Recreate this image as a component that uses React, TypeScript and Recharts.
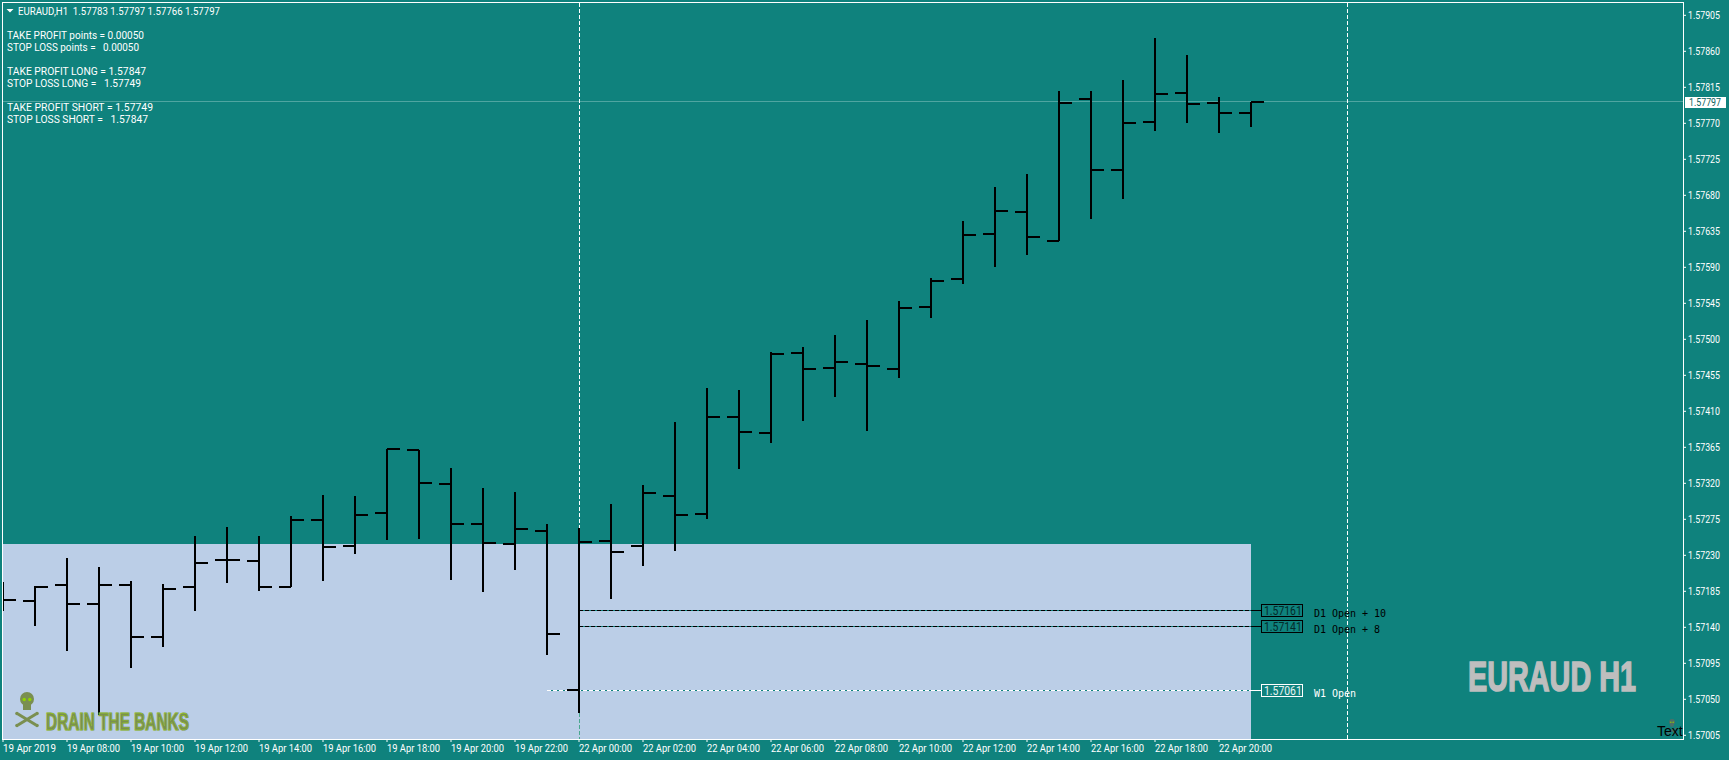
import { ComposedChart, Bar, XAxis, YAxis, ReferenceArea, ReferenceLine, ReferenceDot } from "recharts";

const highs = [
  1.57197, 1.57192, 1.57227, 1.57215, 1.57198, 1.57194, 1.57254, 1.57265, 1.57254, 1.57279,
  1.57305, 1.57304, 1.57363, 1.57362, 1.57339, 1.57314, 1.57309, 1.57269, 1.57264, 1.57294,
  1.57318, 1.57397, 1.57439, 1.57437, 1.57484, 1.5749, 1.57505, 1.57524, 1.57548, 1.57577,
  1.57648, 1.5769, 1.57707, 1.5781, 1.5781, 1.57824, 1.57877, 1.57855, 1.57803, 1.57797,
];
const lows = [
  1.57161, 1.57142, 1.57111, 1.57031, 1.57089, 1.57115, 1.57161, 1.57196, 1.57185, 1.5719,
  1.57198, 1.57232, 1.57249, 1.5725, 1.57199, 1.57184, 1.57212, 1.57105, 1.57033, 1.57175,
  1.57217, 1.57235, 1.57275, 1.57338, 1.5737, 1.57398, 1.57428, 1.57385, 1.57452, 1.57527,
  1.57569, 1.5759, 1.57605, 1.57623, 1.57651, 1.57676, 1.5776, 1.5777, 1.57758, 1.57766,
];
const opens = [
  null, 1.57173, 1.57193, 1.57169, 1.57193, 1.57128, 1.5719, 1.57224, 1.57223, 1.5719,
  1.57274, 1.57242, 1.57283, 1.57362, 1.57319, 1.57269, 1.57244, 1.5726, 1.57062, 1.57248,
  1.57242, 1.57304, 1.57282, 1.57403, 1.57383, 1.57483, 1.57464, 1.57469, 1.57463, 1.5754,
  1.57575, 1.57632, 1.57659, 1.57623, 1.57801, 1.57712, 1.57772, 1.57808, 1.57796, 1.57783,
];
const closes = [
  1.57174, 1.5719, 1.57169, 1.57193, 1.57128, 1.57188, 1.5722, 1.57224, 1.5719, 1.57274,
  1.5724, 1.5728, 1.57363, 1.5732, 1.57269, 1.57245, 1.57263, 1.57132, 1.57247, 1.57234,
  1.57308, 1.5728, 1.57403, 1.57384, 1.57482, 1.57463, 1.57472, 1.57467, 1.57539, 1.57573,
  1.5763, 1.5766, 1.57628, 1.57795, 1.57712, 1.5777, 1.57807, 1.57794, 1.57783, 1.57797,
];

const timeTicks = [0, 2, 4, 6, 8, 10, 12, 14, 16, 18, 20, 22, 24, 26, 28, 30, 32, 34, 36, 38];
const timeLabels = [
  "19 Apr 2019", "19 Apr 08:00", "19 Apr 10:00", "19 Apr 12:00", "19 Apr 14:00", "19 Apr 16:00",
  "19 Apr 18:00", "19 Apr 20:00", "19 Apr 22:00", "22 Apr 00:00", "22 Apr 02:00", "22 Apr 04:00",
  "22 Apr 06:00", "22 Apr 08:00", "22 Apr 10:00", "22 Apr 12:00", "22 Apr 14:00", "22 Apr 16:00",
  "22 Apr 18:00", "22 Apr 20:00",
];
const priceTicks = [
  1.57005, 1.5705, 1.57095, 1.5714, 1.57185, 1.5723, 1.57275, 1.5732, 1.57365, 1.5741, 1.57455,
  1.575, 1.57545, 1.5759, 1.57635, 1.5768, 1.57725, 1.5777, 1.57815, 1.5786, 1.57905,
];
const headerLines = [
  { text: "TAKE PROFIT points = 0.00050", y: 39, w: 137 },
  { text: "STOP LOSS points =   0.00050", y: 51, w: 132 },
  { text: "TAKE PROFIT LONG = 1.57847", y: 75, w: 139 },
  { text: "STOP LOSS LONG =   1.57749", y: 87, w: 134 },
  { text: "TAKE PROFIT SHORT = 1.57749", y: 111, w: 146 },
  { text: "STOP LOSS SHORT =   1.57847", y: 123, w: 141 },
];

const data = highs.map((high, i) => ({
  i,
  high,
  low: lows[i],
  open: opens[i],
  close: closes[i],
}));

const TEAL = "#0f827d";
const PANEL = "#bbcee7";
const MIN_Y = 1.57000375;
const MAX_Y = 1.57920375;
const PANEL_TOP = 1.57244;
const LAST_PRICE = 1.57797;
const LINE_END = 39.34; // where the level boxes start
const FONT = "Roboto, sans-serif";
const NARROW = "'Liberation Sans Narrow', 'Liberation Sans', sans-serif";

function OhlcBar(props: any) {
  const { x, y, width, height, payload } = props;
  const cx = x + width / 2;
  const span = payload.high - payload.low;
  const at = (v: number) => y + ((payload.high - v) / span) * height;
  return (
    <g fill="#000" shapeRendering="crispEdges">
      <rect x={cx - 1} y={y} width={2} height={height} />
      {payload.open != null && <rect x={cx - 12} y={at(payload.open) - 1} width={12} height={2} />}
      <rect x={cx} y={at(payload.close) - 1} width={13} height={2} />
    </g>
  );
}

function TimeTick({ x, y, payload }: any) {
  const label = timeLabels[timeTicks.indexOf(payload.value)];
  return (
    <text x={x} y={y + 8} fill="#fff" fontFamily={FONT} fontSize={10.5} textLength={53} lengthAdjust="spacingAndGlyphs">
      {label}
    </text>
  );
}

function PriceTick({ x, y, payload }: any) {
  return (
    <text x={x} y={y + 4} fill="#fff" fontFamily={FONT} fontSize={10.5} textLength={32} lengthAdjust="spacingAndGlyphs">
      {payload.value.toFixed(5)}
    </text>
  );
}

function PriceTag({ viewBox }: any) {
  const right = viewBox.x + viewBox.width;
  return (
    <g>
      <rect x={right + 2} y={viewBox.y - 5} width={41} height={11} fill="#fff" shapeRendering="crispEdges" />
      <text x={right + 6} y={viewBox.y + 4} fill="#0b5f5c" fontFamily={FONT} fontSize={10.5} textLength={32} lengthAdjust="spacingAndGlyphs">
        {LAST_PRICE.toFixed(5)}
      </text>
    </g>
  );
}

function LevelBox({ cx, cy, value, name, color, textColor }: any) {
  return (
    <g>
      <rect x={cx} y={cy - 6} width={41} height={12} fill="none" stroke={color} shapeRendering="crispEdges" />
      <text x={cx + 2} y={cy + 4.5} fill={textColor} fontFamily={FONT} fontSize={12.5} textLength={38} lengthAdjust="spacingAndGlyphs">
        {value.toFixed(5)}
      </text>
      <text x={cx + 52} y={cy + 6} fill={color} fontFamily="'DejaVu Sans Mono', monospace" fontSize={10} style={{ whiteSpace: "pre" }}>
        {name}
      </text>
    </g>
  );
}

function Level({ value, color, from, name, textColor }: any) {
  return [
    <ReferenceLine key="b" segment={[{ x: from, y: value }, { x: 39, y: value }]} stroke={TEAL} shapeRendering="crispEdges" />,
    <ReferenceLine key="d" segment={[{ x: from, y: value }, { x: 39, y: value }]} stroke={color} strokeDasharray="4 2" shapeRendering="crispEdges" />,
    <ReferenceLine key="e" segment={[{ x: 39, y: value }, { x: LINE_END, y: value }]} stroke={color} shapeRendering="crispEdges" />,
    <ReferenceDot
      key="t"
      x={LINE_END}
      y={value}
      r={1}
      shape={(p: any) => <LevelBox {...p} value={value} name={name} color={color} textColor={textColor} />}
    />,
  ];
}

function Skull({ x, y, s, fill }: any) {
  return (
    <g transform={`translate(${x} ${y}) scale(${s})`}>
      <circle cx={0} cy={0} r={7} fill={fill} />
      <rect x={-4} y={4} width={8} height={7} fill={fill} />
      <circle cx={-2.8} cy={0.5} r={1.7} fill="#8fd400" />
      <circle cx={2.8} cy={0.5} r={1.7} fill="#8fd400" />
      <line x1={-9} y1={15} x2={9} y2={26} stroke={fill} strokeWidth={3} />
      <line x1={9} y1={15} x2={-9} y2={26} stroke={fill} strokeWidth={3} />
      <circle cx={-10} cy={14.5} r={1.8} fill={fill} />
      <circle cx={10} cy={14.5} r={1.8} fill={fill} />
      <circle cx={-10} cy={26.5} r={1.8} fill={fill} />
      <circle cx={10} cy={26.5} r={1.8} fill={fill} />
    </g>
  );
}

export default function App() {
  return (
    <div style={{ position: "absolute", left: 0, top: 0, width: 1729, height: 760, background: TEAL, overflow: "hidden" }}>
      <ComposedChart width={1729} height={760} data={data} margin={{ top: 3, right: 0, bottom: 0, left: 3 }}>
        <XAxis
          dataKey="i"
          type="number"
          domain={[0, 52.5]}
          ticks={timeTicks}
          interval={0}
          height={21}
          allowDataOverflow
          axisLine={false}
          tickLine={{ stroke: "#fff" }}
          tickSize={3}
          tick={<TimeTick />}
        />
        <YAxis
          orientation="right"
          type="number"
          domain={[MIN_Y, MAX_Y]}
          ticks={priceTicks}
          interval={0}
          width={46}
          allowDataOverflow
          axisLine={false}
          tickLine={{ stroke: "#fff" }}
          tickSize={3}
          tickMargin={2}
          tick={<PriceTick />}
        />
        <ReferenceArea x1={0} x2={39} y1={MIN_Y} y2={PANEL_TOP} fill={PANEL} fillOpacity={1} stroke="none" shapeRendering="crispEdges" />
        <ReferenceLine y={LAST_PRICE} stroke="#4fa5a1" shapeRendering="crispEdges" label={<PriceTag />} />
        <ReferenceLine x={42} stroke="#fff" strokeDasharray="4 2" shapeRendering="crispEdges" />
        <ReferenceLine segment={[{ x: 18, y: MAX_Y }, { x: 18, y: highs[18] }]} stroke="#fff" strokeDasharray="4 2" shapeRendering="crispEdges" />
        <ReferenceLine segment={[{ x: 18, y: lows[18] }, { x: 18, y: MIN_Y }]} stroke="#4aa88e" strokeDasharray="4 2" shapeRendering="crispEdges" />
        {Level({ value: 1.57161, color: "#000", from: 18, name: "D1 Open + 10", textColor: "#032b2a" })}
        {Level({ value: 1.57141, color: "#000", from: 18, name: "D1 Open + 8", textColor: "#032b2a" })}
        {Level({ value: 1.57061, color: "#fff", from: 17, name: "W1 Open", textColor: "#e8f4f3" })}
        <Bar dataKey={(d: any) => [d.low, d.high]} barSize={2} shape={<OhlcBar />} isAnimationActive={false} zIndex={1000} />
      </ComposedChart>

      <div style={{ position: "absolute", left: 2, top: 2, width: 1682, height: 738, boxSizing: "border-box", border: "1px solid #fff", pointerEvents: "none" }} />

      <svg width={1729} height={760} style={{ position: "absolute", left: 0, top: 0, pointerEvents: "none" }}>
        <path d="M6.5 9 L13.5 9 L10 12.5 Z" fill="#fff" />
        <text x={18} y={14.5} fill="#fff" fontFamily={FONT} fontSize={10.5} textLength={202} lengthAdjust="spacingAndGlyphs" style={{ whiteSpace: "pre" }}>
          EURAUD,H1  1.57783 1.57797 1.57766 1.57797
        </text>
        {headerLines.map((l) => (
          <text key={l.y} x={7} y={l.y} fill="#fff" fontFamily={FONT} fontSize={10.5} textLength={l.w} lengthAdjust="spacingAndGlyphs" style={{ whiteSpace: "pre" }}>
            {l.text}
          </text>
        ))}
        <text x={1468} y={690.5} fill="#bebebe" stroke="#bebebe" strokeWidth={1.6} fontFamily={NARROW} fontWeight={700} fontSize={43} textLength={168} lengthAdjust="spacingAndGlyphs">
          EURAUD H1
        </text>
        <Skull x={27} y={699} s={1} fill="#7a8f50" />
        <text x={46} y={730} fill="#7a8f50" stroke="#7a8f50" strokeWidth={1.2} fontFamily={NARROW} fontWeight={700} fontSize={24} textLength={143} lengthAdjust="spacingAndGlyphs">
          DRAIN THE BANKS
        </text>
        <text x={45.5} y={730} fill="none" stroke="#a4e000" strokeWidth={0.35} fontFamily={NARROW} fontWeight={700} fontSize={24} textLength={143} lengthAdjust="spacingAndGlyphs">
          DRAIN THE BANKS
        </text>
        <Skull x={1672} y={722} s={0.42} fill="#4f6e68" />
        <text x={1657} y={736} fill="#000" fontFamily="'Liberation Sans', sans-serif" fontSize={14}>
          Text
        </text>
      </svg>
    </div>
  );
}
